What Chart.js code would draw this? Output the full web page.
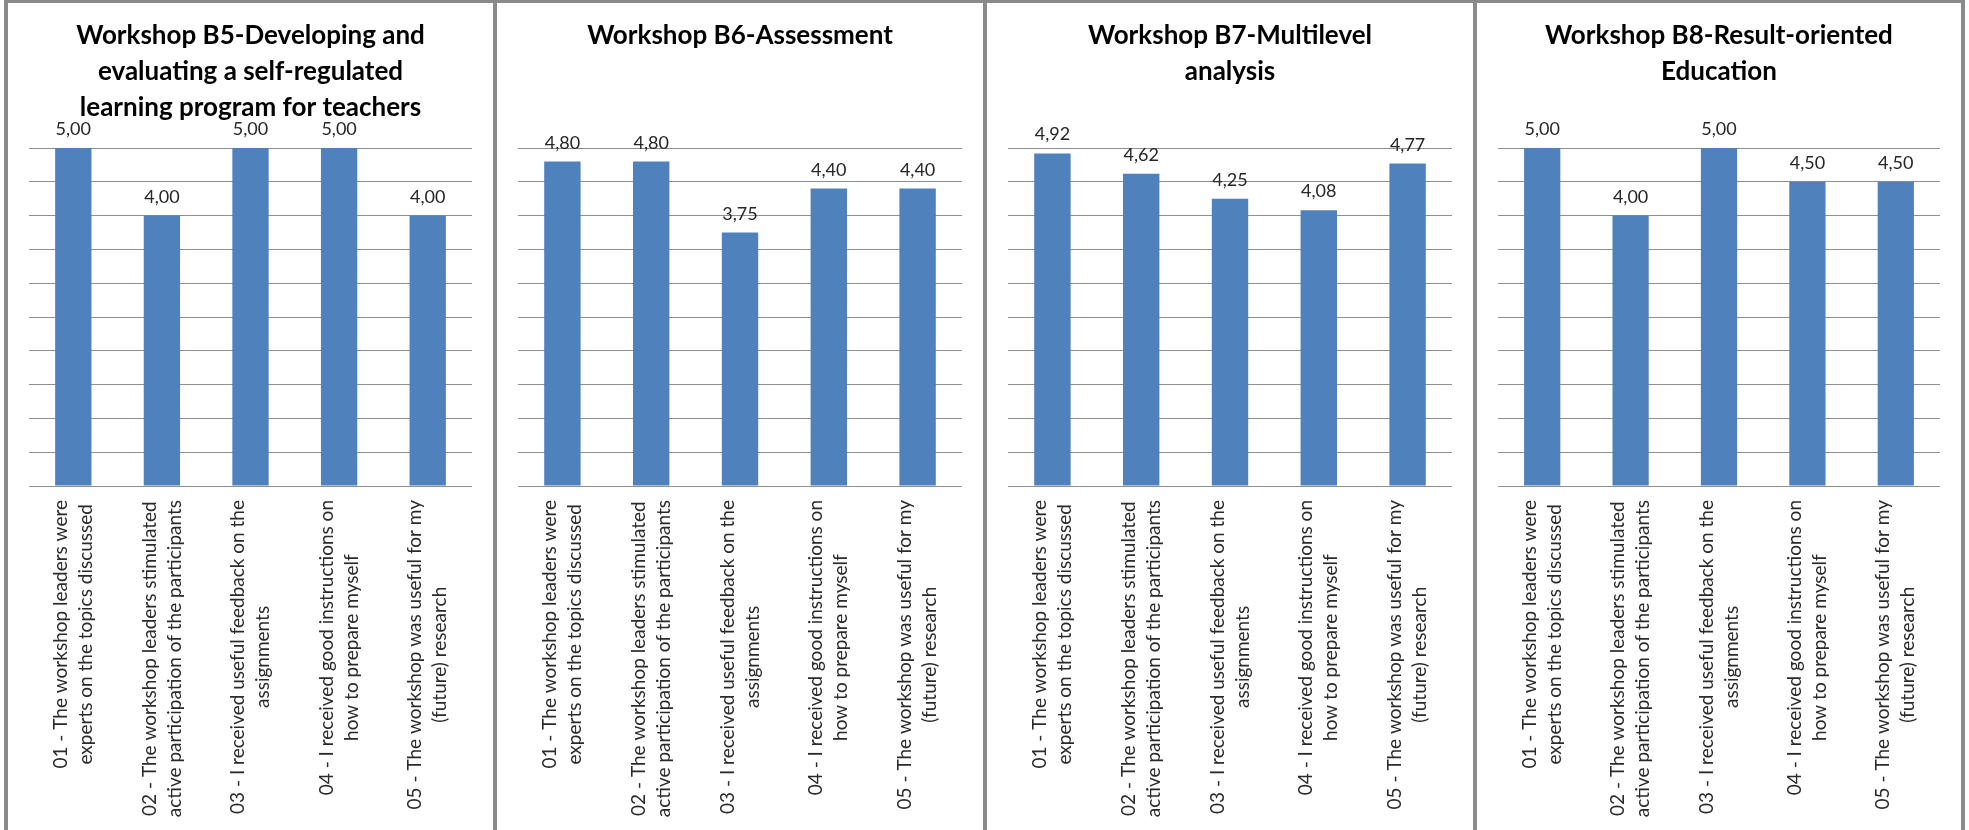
<!DOCTYPE html>
<html>
<head>
<meta charset="utf-8">
<script src="https://cdn.jsdelivr.net/npm/chart.js@4.4.1/dist/chart.umd.min.js"></script>
<style>
  html, body { margin: 0; padding: 0; background: #fff; overflow: hidden; }
  .panel {
    position: absolute;
    top: 0;
    height: 840px;
    border-top: 3px solid #8a8a8a;
    border-left: 4px solid #8a8a8a;
  }
  .panel.last { border-right: 4px solid #8a8a8a; }
  canvas { display: block; }
</style>
</head>
<body>
<script>
// question labels, one array of lines per bar
const categories = [
  ["01 - The workshop leaders were", "experts on the topics discussed"],
  ["02 - The workshop leaders stimulated", "active participation of the participants"],
  ["03 - I received useful feedback on the", "assignments"],
  ["04 - I received good instructions on", "how to prepare myself"],
  ["05 - The workshop was useful for my", "(future) research"],
];

const titleB5 = ["Workshop B5-Developing and", "evaluating a self-regulated", "learning program for teachers"];
const titleB6 = ["Workshop B6-Assessment"];
const titleB7 = ["Workshop B7-Multilevel", "analysis"];
const titleB8 = ["Workshop B8-Result-oriented", "Education"];

const valuesB5 = [5.0, 4.0, 5.0, 5.0, 4.0];
const valuesB6 = [4.8, 4.8, 3.75, 4.4, 4.4];
const valuesB7 = [4.92, 4.62, 4.25, 4.08, 4.77];
const valuesB8 = [5.0, 4.0, 5.0, 4.5, 4.5];

const yMin = 0;
const yMax = 5;
const yStep = 0.5;

const panels = [
  { title: titleB5, values: valuesB5, left: 4, width: 485 },
  { title: titleB6, values: valuesB6, left: 493, width: 486 },
  { title: titleB7, values: valuesB7, left: 983, width: 486 },
  { title: titleB8, values: valuesB8, left: 1473, width: 484 },
];

const FONT = "Lato, 'Open Sans', sans-serif";
const PLOT_TOP = 145;     // canvas y of the 5,00 grid line
const CANVAS_H = 827;
const PLOT_BOTTOM = 483;

// "4,80" style labels above each bar
const valueLabels = {
  id: "valueLabels",
  afterDatasetsDraw(chart) {
    const ctx = chart.ctx;
    const meta = chart.getDatasetMeta(0);
    const values = chart.data.datasets[0].data;
    ctx.save();
    ctx.font = "18px " + FONT;
    ctx.fillStyle = "#262626";
    ctx.textAlign = "center";
    ctx.textBaseline = "alphabetic";
    meta.data.forEach((bar, i) => {
      ctx.fillText(values[i].toFixed(2).replace(".", ","), bar.x, bar.y - 13);
    });
    ctx.restore();
  },
};

// rotated category labels, lines centred on each other like in Excel
const categoryLabels = {
  id: "categoryLabels",
  afterDraw(chart) {
    const ctx = chart.ctx;
    const xScale = chart.scales.x;
    const top = chart.chartArea.bottom + 14;
    const lineHeight = 25;
    ctx.save();
    ctx.font = "19px " + FONT;
    ctx.fillStyle = "#2a2a2a";
    ctx.textAlign = "center";
    ctx.textBaseline = "middle";
    chart.data.labels.forEach((lines, i) => {
      const x = xScale.getPixelForValue(i);
      const widest = Math.max(...lines.map((l) => ctx.measureText(l).width));
      ctx.save();
      ctx.translate(x, top);
      ctx.rotate(-Math.PI / 2);
      lines.forEach((line, j) => {
        const offset = (j - (lines.length - 1) / 2) * lineHeight;
        ctx.fillText(line, -widest / 2, offset);
      });
      ctx.restore();
    });
    ctx.restore();
  },
};

function workshopChart(panel, last) {
  const box = document.createElement("div");
  box.className = last ? "panel last" : "panel";
  box.style.left = panel.left + "px";
  box.style.width = panel.width + "px";
  document.body.appendChild(box);

  const canvas = document.createElement("canvas");
  canvas.width = panel.width;
  canvas.height = CANVAS_H;
  box.appendChild(canvas);

  const titleTop = 15;
  const titleLine = 36;

  return new Chart(canvas, {
    type: "bar",
    data: {
      labels: categories,
      datasets: [
        {
          data: panel.values,
          backgroundColor: "#4f81bd",
          barPercentage: 0.41,
          categoryPercentage: 1,
        },
      ],
    },
    options: {
      responsive: false,
      animation: false,
      layout: { padding: { left: 21, right: 21, top: 0, bottom: CANVAS_H - PLOT_BOTTOM } },
      plugins: {
        legend: { display: false },
        tooltip: { enabled: false },
        title: {
          display: true,
          text: panel.title,
          color: "#000",
          font: { family: FONT, size: 26, weight: "bold", lineHeight: titleLine + "px" },
          padding: {
            top: titleTop,
            bottom: PLOT_TOP - titleTop - panel.title.length * titleLine,
          },
        },
      },
      scales: {
        x: { display: false },
        y: {
          min: yMin,
          max: yMax,
          ticks: { display: false, stepSize: yStep },
          grid: { color: "#8f8f8f", lineWidth: 1, drawTicks: false },
          border: { display: false },
        },
      },
    },
    plugins: [valueLabels, categoryLabels],
  });
}

panels.forEach((p, i) => workshopChart(p, i === panels.length - 1));
</script>
</body>
</html>
